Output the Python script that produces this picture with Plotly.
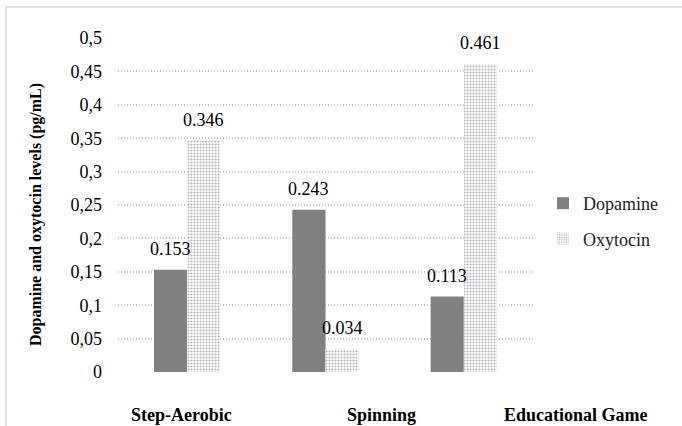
import plotly.graph_objects as go

categories = ["Step-Aerobic", "Spinning", "Educational Game"]
dopamine = [0.153, 0.243, 0.113]
oxytocin = [0.346, 0.034, 0.461]
tick_vals = [0, 0.05, 0.1, 0.15, 0.2, 0.25, 0.3, 0.35, 0.4, 0.45, 0.5]
tick_text = ["0", "0,05", "0,1", "0,15", "0,2", "0,25", "0,3", "0,35", "0,4", "0,45", "0,5"]
label_px = [181, 381, 576]
y_title = "Dopamine and oxytocin levels (pg/mL)"

FONT = "Liberation Serif, Times New Roman, serif"
L, R, T, B = 118, 149, 38, 54
W, H = 682, 426
PW, PH = W - L - R, H - T - B
BARGAP = 0.52
half = PW / len(categories) * (1 - BARGAP) / 4  # centre offset of each bar in a pair

fig = go.Figure()
fig.add_trace(go.Bar(
    x=categories, y=dopamine, name="Dopamine",
    marker=dict(color="#808080", line=dict(width=0)),
    legendgroup="a"))
fig.add_trace(go.Bar(
    x=categories, y=oxytocin, name="Oxytocin",
    marker=dict(color="white", line=dict(width=0),
                pattern=dict(shape=".", fgcolor="#6e6e6e", bgcolor="white", size=3, solidity=0.4)),
    legendgroup="b"))

annots = []
for series, sh in ((dopamine, -half), (oxytocin, half)):
    for c, v in zip(categories, series):
        annots.append(dict(text=f"{v:.3f}", x=c, y=v, xref="x", yref="y",
                           xshift=sh, yshift=9, showarrow=False,
                           xanchor="center", yanchor="bottom",
                           font=dict(family=FONT, size=18, color="#000")))
for lab, px in zip(categories, label_px):
    annots.append(dict(text=f"<b>{lab}</b>", x=(px - L) / PW, xref="paper",
                       y=-(415 - (H - B)) / PH, yref="paper",
                       showarrow=False, xanchor="center", yanchor="middle",
                       font=dict(family=FONT, size=18, color="#000")))
annots.append(dict(text=f"<b>{y_title}</b>", textangle=-90,
                   x=-(L - 36) / PW, xref="paper", y=(H - B - 215) / PH, yref="paper",
                   showarrow=False, xanchor="center", yanchor="middle",
                   font=dict(family=FONT, size=16, color="#000")))

fig.update_layout(
    width=W, height=H,
    margin=dict(l=L, r=R, t=T, b=B),
    paper_bgcolor="white", plot_bgcolor="white",
    font=dict(family=FONT, size=18, color="#000"),
    barmode="group", bargap=BARGAP, bargroupgap=0,
    showlegend=True,
    legend=dict(x=(543 - L) / PW, y=(H - B - 221) / PH, xanchor="left", yanchor="middle",
                font=dict(family=FONT, size=18, color="#222"),
                tracegroupgap=9, traceorder="grouped",
                itemwidth=30, bgcolor="rgba(0,0,0,0)"),
    annotations=annots,
    shapes=[dict(type="rect", xref="paper", yref="paper",
                 x0=-(L - 6) / PW, x1=(W + 20 - L) / PW,
                 y0=-(H + 20 - (H - B)) / PH, y1=1 + (T - 7) / PH,
                 line=dict(color="#d9d9d9", width=1.5), fillcolor="rgba(0,0,0,0)", layer="below")],
)
fig.update_xaxes(showticklabels=False, showgrid=False, zeroline=False, showline=False, ticks="")
fig.update_yaxes(range=[0, 0.5], tickvals=tick_vals, ticktext=tick_text,
                 showgrid=True, gridcolor="#b4c7e7", griddash="1px,2px", gridwidth=1.5,
                 zeroline=False, showline=False, ticks="", ticklabelstandoff=15,
                 tickfont=dict(family=FONT, size=18, color="#000"))
fig.write_html("out.html", config={"displayModeBar": False},
               post_script="document.body.style.margin='0';document.body.style.overflow='hidden';")
